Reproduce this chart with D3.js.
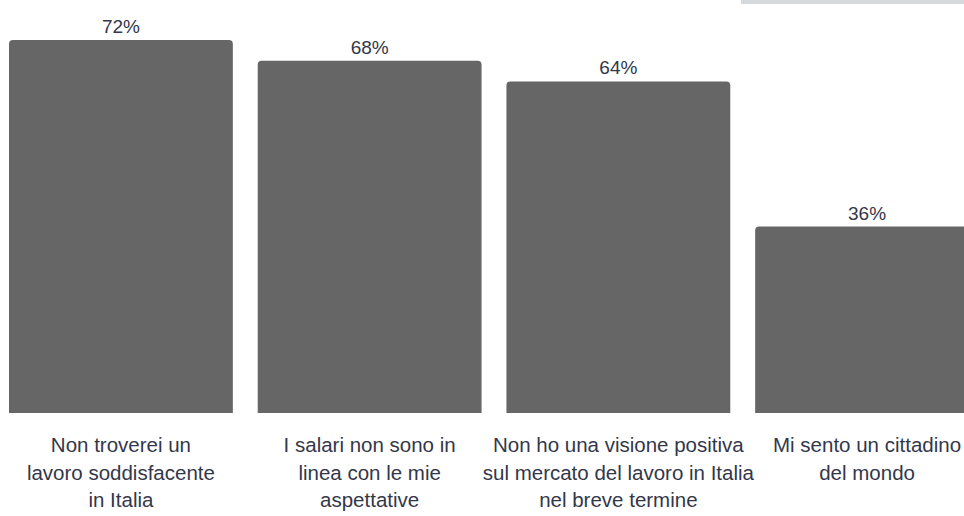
<!DOCTYPE html>
<html>
<head>
<meta charset="utf-8">
<script src="https://cdn.jsdelivr.net/npm/d3@7"></script>
<style>
  html, body { margin: 0; padding: 0; background: #fff; overflow: hidden; }
  svg { display: block; }
  text { font-family: "Liberation Sans", Arial, sans-serif; fill: #33374a; }
</style>
</head>
<body>
<svg id="chart" width="964" height="516"></svg>
<script>
const categories = [
  ["Non troverei un", "lavoro soddisfacente", "in Italia"],
  ["I salari non sono in", "linea con le mie", "aspettative"],
  ["Non ho una visione positiva", "sul mercato del lavoro in Italia", "nel breve termine"],
  ["Mi sento un cittadino", "del mondo"]
];
const values = [72, 68, 64, 36];
const valueLabels = ["72%", "68%", "64%", "36%"];

const svg = d3.select("#chart");
const W = 964, H = 516;
const baseY = 413;

const x = d3.scaleBand()
  .domain(d3.range(values.length))
  .range([9, 979])
  .paddingInner(0.1)
  .paddingOuter(0);

const y = d3.scaleLinear()
  .domain([0, 72])
  .range([baseY, 40]);

const r = 4;
function topRounded(x0, y0, w, h) {
  return `M${x0},${y0 + h}V${y0 + r}Q${x0},${y0} ${x0 + r},${y0}H${x0 + w - r}Q${x0 + w},${y0} ${x0 + w},${y0 + r}V${y0 + h}Z`;
}

svg.append("g").selectAll("path")
  .data(values)
  .join("path")
  .attr("d", (d, i) => topRounded(x(i), y(d), x.bandwidth(), baseY - y(d)))
  .attr("fill", "#666666");

svg.append("g").selectAll("text")
  .data(values)
  .join("text")
  .attr("x", (d, i) => x(i) + x.bandwidth() / 2)
  .attr("y", d => y(d) - 7)
  .attr("text-anchor", "middle")
  .attr("font-size", 19)
  .text((d, i) => valueLabels[i]);

const lab = svg.append("g").selectAll("text")
  .data(categories)
  .join("text")
  .attr("text-anchor", "middle")
  .attr("font-size", 20.5)
  .attr("x", (d, i) => x(i) + x.bandwidth() / 2)
  .attr("y", 452);
lab.selectAll("tspan")
  .data((d, i) => d.map(s => ({ s, i })))
  .join("tspan")
  .attr("x", d => x(d.i) + x.bandwidth() / 2)
  .attr("dy", (d, j) => j === 0 ? 0 : 27.5)
  .text(d => d.s);

// partially visible header box at top right
svg.append("rect")
  .attr("x", 741).attr("y", 0)
  .attr("width", W - 741).attr("height", 4)
  .attr("fill", "#d6d9db");
</script>
</body>
</html>
